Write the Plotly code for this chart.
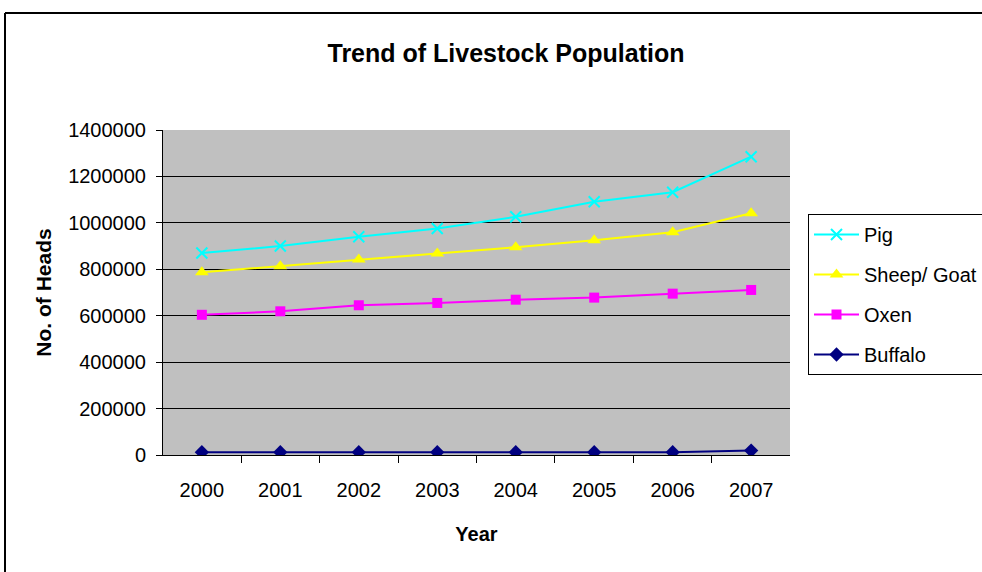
import plotly.graph_objects as go

years = ["2000", "2001", "2002", "2003", "2004", "2005", "2006", "2007"]
pig = [870000, 900000, 940000, 976000, 1026000, 1091000, 1132000, 1285000]
sheep_goat = [787000, 813000, 842000, 868000, 895000, 925000, 960000, 1041000]
oxen = [604000, 619000, 645000, 655000, 669000, 678000, 695000, 711000]
buffalo = [12000, 12000, 12000, 12000, 12000, 12000, 12000, 19000]
y_ticks = [0, 200000, 400000, 600000, 800000, 1000000, 1200000, 1400000]

FONT = "Liberation Sans, Arial, sans-serif"

series = [
    ("Pig", pig, "#00FFFF", "x-thin", 11),
    ("Sheep/ Goat", sheep_goat, "#FFFF00", "triangle-up", 12),
    ("Oxen", oxen, "#FF00FF", "square", 10),
    ("Buffalo", buffalo, "#000080", "diamond", 11),
]

fig = go.Figure()
for i, (name, vals, color, sym, size) in enumerate(series):
    fig.add_trace(go.Scatter(
        x=years, y=vals, name=name, mode="lines+markers",
        legendgroup=f"g{i}",
        line=dict(color=color, width=2),
        marker=dict(symbol=sym, size=size, color=color,
                    line=dict(color=color, width=2 if sym == "x-thin" else 0)),
    ))

# figure is slightly wider than the 982px window; the overflow is hidden,
# so the chart's right border and legend's right edge fall outside the view
W = 1010

def px_x(p):
    return (p - 163) / 627

def px_y(p):
    return (455 - p) / 325

fig.update_layout(
    width=W, height=572,
    margin=dict(l=163, r=W - 790, t=130, b=117, autoexpand=False),
    paper_bgcolor="white",
    plot_bgcolor="#C0C0C0",
    font=dict(family=FONT, size=20, color="black"),
    title=dict(text="<b>Trend of Livestock Population</b>", x=506 / W, xanchor="center",
               y=1 - 53 / 572, yanchor="middle", font=dict(size=25, family=FONT)),
    showlegend=True,
    legend=dict(x=px_x(808), y=px_y(214), xanchor="left", yanchor="top",
                bgcolor="white", bordercolor="black", borderwidth=1,
                font=dict(size=20), itemwidth=45, tracegroupgap=11,
                traceorder="grouped"),
    xaxis=dict(type="category", tickson="boundaries", ticks="outside", ticklen=7,
               tickcolor="black", showline=True, linecolor="black", linewidth=1,
               showgrid=False, mirror=False, tickfont=dict(size=20),
               ticklabelstandoff=17, automargin=False,
               title=dict(text="<b>Year</b>", standoff=26, font=dict(size=20))),
    yaxis=dict(range=[0, 1400000], tickvals=y_ticks, ticktext=[str(v) for v in y_ticks],
               ticks="outside", ticklen=6, tickcolor="black",
               showline=True, linecolor="black", linewidth=1,
               showgrid=True, gridcolor="black", gridwidth=1, zeroline=False,
               tickfont=dict(size=20), ticklabelstandoff=6, automargin=False,
               title=dict(text="<b>No. of Heads</b>", standoff=10, font=dict(size=21))),
    shapes=[
        dict(type="line", xref="paper", yref="paper",
             x0=px_x(5), x1=px_x(W), y0=px_y(13), y1=px_y(13),
             line=dict(color="black", width=2), layer="below"),
        dict(type="line", xref="paper", yref="paper",
             x0=px_x(5), x1=px_x(5), y0=px_y(13), y1=px_y(580),
             line=dict(color="black", width=2), layer="below"),
    ],
)

fig.write_html("out.html", config={"displayModeBar": False},
               post_script="document.body.style.margin='0';document.body.style.overflow='hidden';")
